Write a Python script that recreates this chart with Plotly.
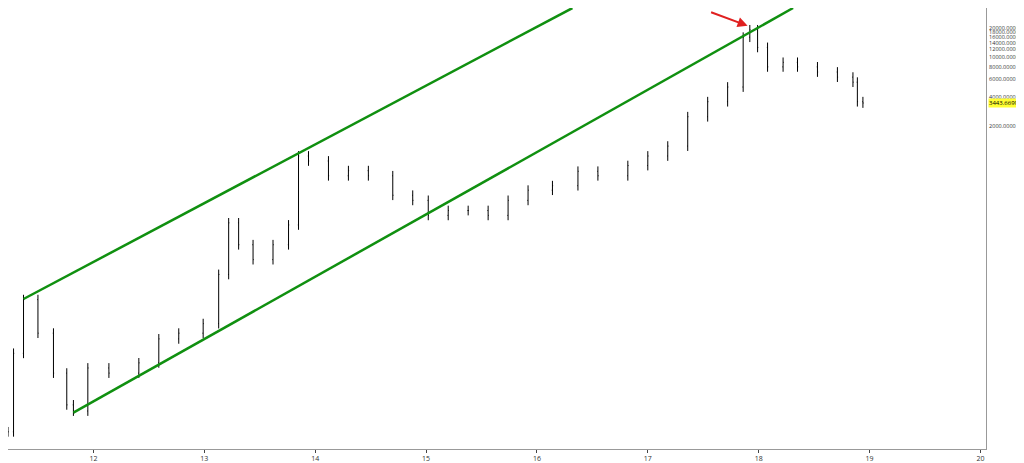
import plotly.graph_objects as go

years = [11.23,11.28,11.37,11.50,11.64,11.76,11.82,11.95,12.14,12.41,12.59,12.77,12.99,13.13,13.22,13.31,13.44,13.62,13.76,13.85,13.94,14.12,14.30,14.48,14.70,14.88,15.02,15.20,15.38,15.56,15.74,15.92,16.14,16.37,16.55,16.82,17.00,17.18,17.36,17.54,17.72,17.86,17.92,17.99,18.08,18.22,18.35,18.53,18.71,18.85,18.89,18.94]
closes = [1.6,10,35,16,6.3,3.0,2.6,7.1,6.3,8,14,16,20,63,210,126,89,126,200,1000,890,630,710,630,400,355,250,280,280,250,355,450,500,700,630,800,1000,1260,2500,3550,5000,16000,19000,12600,8000,8900,8000,7100,6300,5600,3550,3443.67]

ch1_x = [11.37, 16.32]; ch1_y = [35.5, 31600]
ch2_x = [11.82, 18.31]; ch2_y = [2.5, 31600]

tick_years = [12,13,14,15,16,17,18,19,20]
tick_prices = [2000,4000,6000,8000,10000,12000,14000,16000,18000,20000]

opens = [closes[0]] + closes[:-1]
highs = [max(o, c) * 1.12 for o, c in zip(opens, closes)]
lows = [min(o, c) / 1.12 for o, c in zip(opens, closes)]

fig = go.Figure()
fig.add_trace(go.Ohlc(x=years, open=opens, high=highs, low=lows, close=closes,
                      increasing_line_color="black", decreasing_line_color="black",
                      line_width=1, tickwidth=0.15))
for cx, cy in [(ch1_x, ch1_y), (ch2_x, ch2_y)]:
    fig.add_trace(go.Scatter(x=cx, y=cy, mode="lines", line=dict(color="#109010", width=2.5)))

fig.add_annotation(x=17.9, y=4.32, xref="x", yref="y", ax=-38, ay=-14, axref="pixel", ayref="pixel",
                   text="", showarrow=True, arrowhead=2, arrowsize=1, arrowwidth=2, arrowcolor="#e02020")
fig.add_annotation(x=1, xref="paper", xanchor="left", xshift=2, y=3.537, yref="y", text="3443.6699",
                   showarrow=False, bgcolor="#ffff33", font=dict(size=6, color="black"), borderpad=0)

fig.update_layout(
    width=1024, height=463, margin=dict(l=0, r=46, t=0, b=22),
    paper_bgcolor="white", plot_bgcolor="white", showlegend=False,
    xaxis=dict(range=[11.23, 20.05], tickvals=tick_years, ticktext=[str(t) for t in tick_years],
               ticks="outside", ticklen=3, showgrid=False, rangeslider=dict(visible=False),
               showline=True, linecolor="#999", tickfont=dict(size=7, color="#333")),
    yaxis=dict(type="log", range=[0.03, 4.5], side="right", tickvals=tick_prices,
               ticktext=[f"{p}.0000" for p in tick_prices], showgrid=False, showline=True,
               linecolor="#999", tickfont=dict(size=5.5, color="#333"), ticks="", zeroline=False,
               ticklabelstandoff=1),
)
fig.write_html("out.html")
